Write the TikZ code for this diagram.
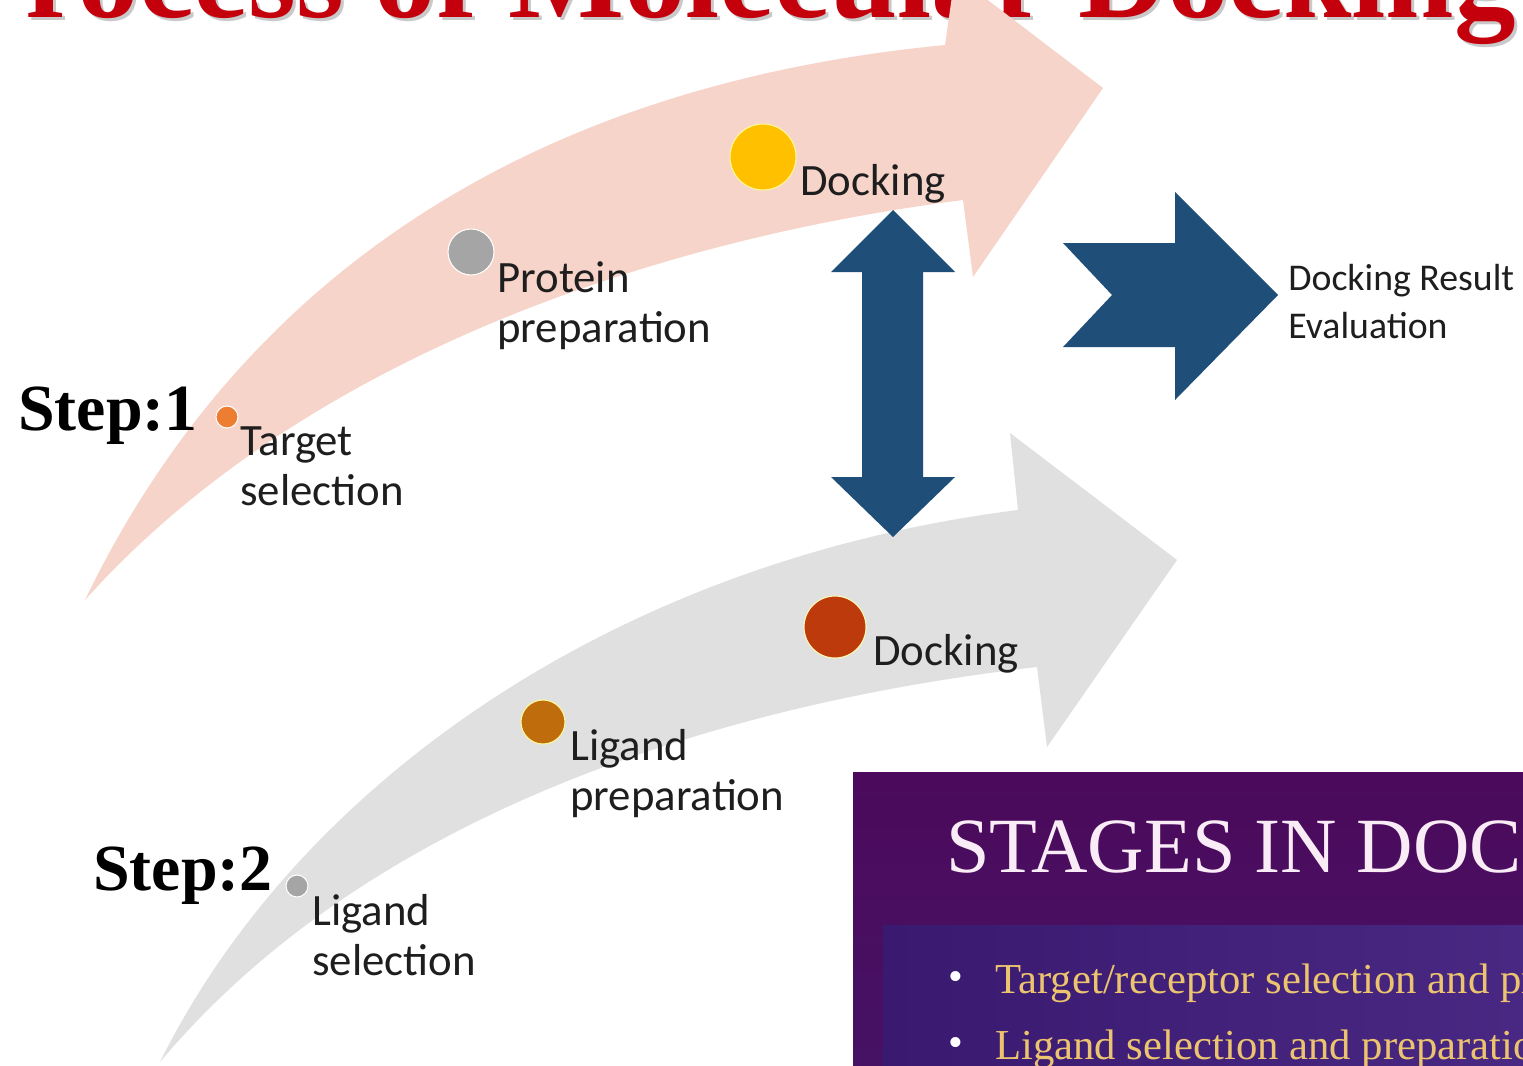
\documentclass[tikz,border=0pt]{standalone}
\usepackage{fontspec}
\setmainfont{Carlito}
\newfontfamily\tnr{Liberation Serif}
\definecolor{pinkA}{RGB}{247,212,202}
\definecolor{grayA}{RGB}{224,224,224}
\definecolor{blueA}{RGB}{31,78,121}
\definecolor{titlered}{RGB}{195,0,12}
\definecolor{txt}{RGB}{30,30,30}
\definecolor{dotorange}{RGB}{237,125,49}
\definecolor{dotgray}{RGB}{165,165,165}
\definecolor{dotyellow}{RGB}{255,192,0}
\definecolor{dotbrown}{RGB}{191,108,12}
\definecolor{dotred}{RGB}{188,58,12}
\definecolor{purpleTop}{RGB}{76,10,92}
\definecolor{purpleBot}{RGB}{70,18,100}
\definecolor{purpleIn}{RGB}{58,26,112}
\definecolor{purpleIn2}{RGB}{72,40,130}
\definecolor{gold}{RGB}{236,196,112}
\definecolor{stagewhite}{RGB}{250,236,246}
\begin{document}
\begin{tikzpicture}[x=0.02cm,y=-0.02cm,
  lab/.style={anchor=base west, inner sep=0pt, align=left, text=txt,
    font=\fontsize{25.5}{28.3}\selectfont},
  steplab/.style={anchor=base west, inner sep=0pt, text=black,
    font=\tnr\bfseries\fontsize{37.5}{40}\selectfont},
  dotnode/.style={circle, inner sep=0pt, draw=white, line width=0.6pt},
  bullettext/.style={anchor=base west, inner sep=0pt, text=gold,
    font=\tnr\fontsize{24.3}{26}\selectfont},
  bulletmark/.style={anchor=base west, inner sep=0pt, text=white,
    font=\tnr\fontsize{24}{26}\selectfont}]
\useasboundingbox (0,0) rectangle (1523,1065);
\clip (0,0) rectangle (1523,1065);
\fill[white] (0,0) rectangle (1523,1065);

% title
\node[anchor=base west, inner sep=0pt, text=black!35, opacity=0.6,
  font=\tnr\bfseries\fontsize{70}{70}\selectfont] (titleshadow) at (-47,20) {Process of Molecular Docking};
\node[anchor=base west, inner sep=0pt, text=titlered,
  font=\tnr\bfseries\fontsize{70}{70}\selectfont] (title) at (-50,17) {Process of Molecular Docking};

% curved arrows
\fill[grayA] (160,1062) .. controls (300,780) and (620,560) .. (1018,510)
  -- (1010,433) -- (1177,560) -- (1047,747) -- (1037,667)
  .. controls (750,700) and (380,800) .. (160,1062) -- cycle;
\fill[pinkA] (85,600) .. controls (220,320) and (480,90) .. (945,45)
  -- (955,-25) -- (1103,88) -- (973,277) -- (963,200)
  .. controls (650,240) and (300,360) .. (85,600) -- cycle;

% blue arrows
\fill[blueA] (893,210) -- (955,272) -- (923,272) -- (923,477) -- (955,477)
  -- (893,537) -- (831,477) -- (862,477) -- (862,272) -- (831,272) -- cycle;
\fill[blueA] (1063,243) -- (1175,243) -- (1175,192) -- (1278,295)
  -- (1175,400) -- (1175,347) -- (1063,347) -- (1112,295) -- cycle;

% dots
\node[dotnode, fill=dotorange, minimum size=0.44cm] (d1) at (227,417) {};
\node[dotnode, fill=dotgray, minimum size=0.92cm] (d2) at (471,252) {};
\node[dotnode, fill=dotyellow, draw=yellow!40, minimum size=1.32cm] (d3) at (763,157) {};
\node[dotnode, fill=dotgray, minimum size=0.44cm] (d4) at (297,886) {};
\node[dotnode, fill=dotbrown, draw=yellow!40, minimum size=0.88cm] (d5) at (543,722) {};
\node[dotnode, fill=dotred, draw=yellow!30, minimum size=1.24cm] (d6) at (835,627) {};

% labels (base = last line)
\node[steplab] (s1) at (18,430) {Step:1};
\node[steplab] (s2) at (93,890) {Step:2};
\node[lab] (l1) at (240,505) {Target\\selection};
\node[lab] (l2) at (497,342) {Protein\\preparation};
\node[lab] (l3) at (800,195) {Docking};
\node[lab] (l4) at (312,975) {Ligand\\selection};
\node[lab] (l5) at (570,810) {Ligand\\preparation};
\node[lab] (l6) at (873,665) {Docking};
\node[anchor=base west, inner sep=0pt, align=left, text=txt,
  font=\fontsize{21.5}{27}\selectfont] (res) at (1288,338) {Docking Result\\Evaluation};

% purple box
\shade[top color=purpleTop, bottom color=purpleBot] (853,772) rectangle (1523,1065);
\shade[left color=purpleIn, right color=purpleIn2] (883,925) rectangle (1523,1065);
\node[anchor=base west, inner sep=0pt, text=stagewhite,
  font=\tnr\fontsize{44.5}{46}\selectfont] (stages) at (946,872) {STAGES IN DOCKING};
\node[bulletmark] (b1) at (948,990) {•};
\node[bullettext] (t1) at (995,993) {Target/receptor selection and preparation};
\node[bulletmark] (b2) at (948,1056) {•};
\node[bullettext] (t2) at (995,1059) {Ligand selection and preparation};
\end{tikzpicture}
\end{document}
